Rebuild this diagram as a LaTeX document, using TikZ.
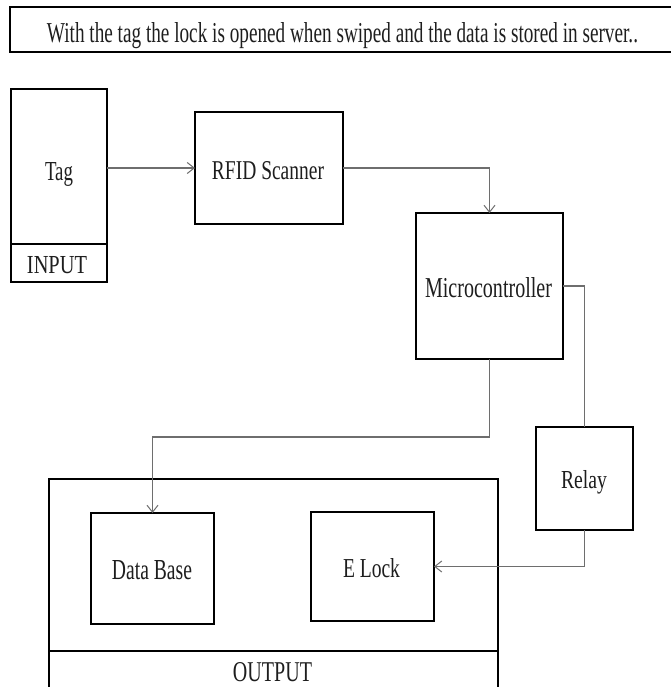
\documentclass[tikz,border=0pt]{standalone}
\usepackage{fontspec}
\setmainfont{Liberation Serif}
\usepackage{graphicx}
\usetikzlibrary{arrows.meta}
\newcommand{\fitxt}[3]{\resizebox{#1pt}{#2pt}{#3}}
\definecolor{connc}{RGB}{110,110,110}
\definecolor{txtc}{RGB}{30,30,30}
\tikzset{
  blockbox/.style={draw=black, line width=2.8pt, inner sep=0pt, outer sep=0pt},
  lbl/.style={anchor=base, inner sep=0pt, outer sep=0pt, text=txtc},
  conn/.style={draw=connc, line width=1.2pt},
  connarrow/.style={conn, -{Straight Barb[length=7pt,width=11pt,line width=1pt]}}
}
\begin{document}
\begin{tikzpicture}[x=1pt,y=-1pt]
\useasboundingbox[fill=white] (0,0) rectangle (670,687);
% boxes
\node[blockbox, minimum width=670pt, minimum height=45pt] (topbox) at (345,29.5) {};
\node[blockbox, minimum width=96pt, minimum height=155pt] (tag) at (59,166.5) {};
\node[blockbox, minimum width=96pt, minimum height=38pt] (input) at (59,263) {};
\node[blockbox, minimum width=148pt, minimum height=112pt] (rfid) at (269,168) {};
\node[blockbox, minimum width=147pt, minimum height=146pt] (micro) at (489.5,286) {};
\node[blockbox, minimum width=97pt, minimum height=103pt] (relay) at (584.5,478.5) {};
\node[blockbox, minimum width=449pt, minimum height=172pt] (output) at (273.5,565) {};
\node[blockbox, minimum width=449pt, minimum height=58pt] (outlbl) at (273.5,680) {};
\node[blockbox, minimum width=123pt, minimum height=111pt] (db) at (152.5,568.5) {};
\node[blockbox, minimum width=123pt, minimum height=109pt] (elock) at (372.5,566.5) {};
% texts
\node[lbl] (toptxt) at (342.5,43) {\fitxt{591}{20}{With the tag the lock is opened when swiped and the data is stored in server..}};
\node[lbl] (tagtxt) at (59,180) {\fitxt{28}{18}{Tag}};
\node[lbl] (inputtxt) at (57,273) {\fitxt{60}{17}{INPUT}};
\node[lbl] (rfidtxt) at (268,179) {\fitxt{112}{18}{RFID Scanner}};
\node[lbl] (microtxt) at (488.5,297) {\fitxt{127}{20}{Microcontroller}};
\node[lbl] (relaytxt) at (584,488) {\fitxt{46}{18}{Relay}};
\node[lbl] (dbtxt) at (152,579) {\fitxt{80}{19}{Data Base}};
\node[lbl] (elocktxt) at (371.5,577) {\fitxt{57}{19}{E Lock}};
\node[lbl] (outtxt) at (272.5,681) {\fitxt{79}{19}{OUTPUT}};
% connectors
\draw[connarrow] (rfid.west -| tag.east) -- (rfid.west);
\draw[connarrow] (rfid.east) -| (micro.north);
\draw[conn] (micro.east) -| (relay.north);
\draw[connarrow] (micro.south) -- ++(0,78) -| (db.north);
\draw[connarrow] (relay.south) |- (elock.east);
\end{tikzpicture}
\end{document}
